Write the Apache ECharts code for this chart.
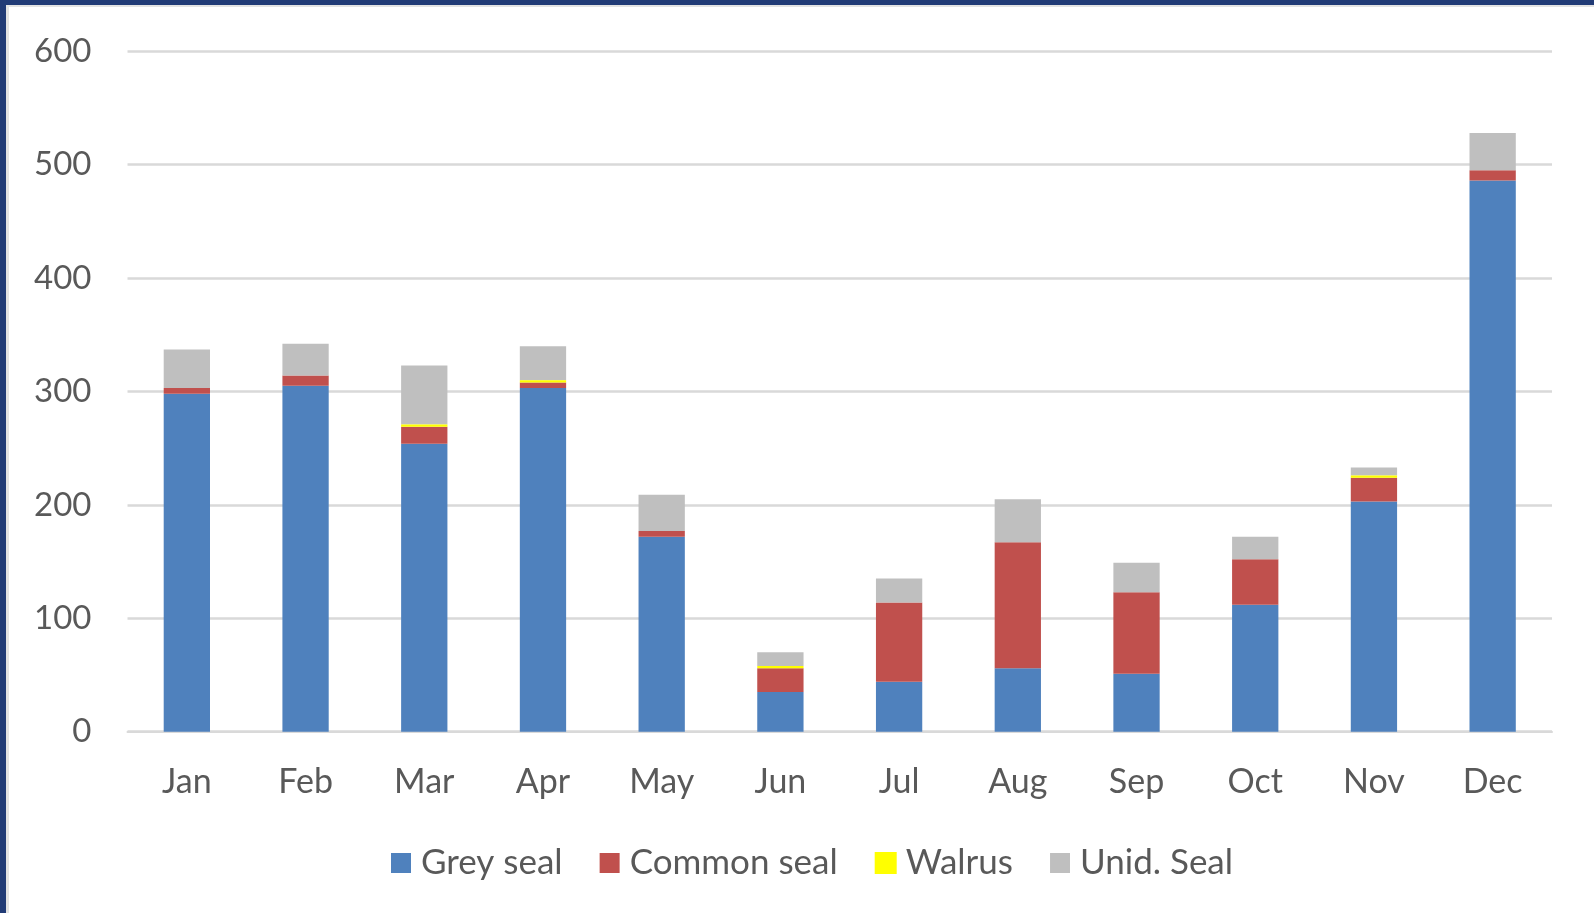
<!DOCTYPE html>
<html>
<head>
<meta charset="utf-8">
<style>
  html, body { margin: 0; padding: 0; background: #ffffff; }
  #chart { width: 1594px; height: 913px; }
</style>
<script src="https://cdn.jsdelivr.net/npm/echarts@6/dist/echarts.min.js"></script>
</head>
<body>
<div id="chart"></div>
<script>
const months = ['Jan','Feb','Mar','Apr','May','Jun','Jul','Aug','Sep','Oct','Nov','Dec'];
const greySeal   = [298, 305, 254, 303, 172, 35, 44, 56, 51, 112, 203, 486];
const commonSeal = [5, 9, 15, 5, 5, 21, 70, 111, 72, 40, 21, 9];
const walrus     = [0, 0, 2, 2, 0, 2, 0, 0, 0, 0, 2, 0];
const unidSeal   = [34, 28, 52, 30, 32, 12, 21, 38, 26, 20, 7, 33];
const yTicks = { min: 0, max: 600, interval: 100 };

const FONT = 'Lato';
const TXT = '#595959';

const chart = echarts.init(document.getElementById('chart'), null, { renderer: 'canvas' });

function bar(name, data, color, extra) {
  return Object.assign({
    name: name,
    type: 'bar',
    stack: 'total',
    barCategoryGap: '61%',
    data: data.map(v => (v === 0 && name === 'Walrus') ? '-' : v),
    itemStyle: { color: color },
    emphasis: { disabled: true }
  }, extra || {});
}

chart.setOption({
  animation: false,
  backgroundColor: '#ffffff',
  textStyle: { fontFamily: FONT },
  grid: { left: 127.5, right: 42, top: 51.3, bottom: 181.3, containLabel: false },
  legend: {
    left: 386,
    top: 837,
    itemWidth: 20,
    itemHeight: 20,
    itemGap: 37,
    icon: 'rect',
    textStyle: { color: TXT, fontSize: 35, fontFamily: FONT, lineHeight: 42, padding: [0, 0, 0, 5] },
    data: ['Grey seal', 'Common seal', 'Walrus', 'Unid. Seal']
  },
  xAxis: {
    type: 'category',
    data: months,
    axisLine: { show: true, lineStyle: { color: '#D9D9D9', width: 2 } },
    axisTick: { show: false },
    axisLabel: { color: TXT, fontSize: 34, fontFamily: FONT, margin: 33 }
  },
  yAxis: {
    type: 'value',
    min: yTicks.min,
    max: yTicks.max,
    interval: yTicks.interval,
    axisLine: { show: false },
    axisTick: { show: false },
    splitLine: { lineStyle: { color: '#D9D9D9', width: 2.5 } },
    axisLabel: { color: TXT, fontSize: 33, fontFamily: FONT, margin: 36 }
  },
  series: [
    bar('Grey seal', greySeal, '#4F81BD'),
    bar('Common seal', commonSeal, '#C0504D'),
    bar('Walrus', walrus, '#FFFF00', { z: 5, itemStyle: { color: '#FFFF00', borderColor: '#FFFF00', borderWidth: 2 } }),
    bar('Unid. Seal', unidSeal, '#BFBFBF')
  ],
  graphic: [
    { type: 'rect', shape: { x: 0, y: 0, width: 1594, height: 5 }, style: { fill: '#213B76' }, z: 100 },
    { type: 'rect', shape: { x: 6, y: 5, width: 1588, height: 2 }, style: { fill: '#E3E3E3' }, z: 100 },
    { type: 'rect', shape: { x: 0, y: 0, width: 6, height: 913 }, style: { fill: '#213B76' }, z: 100 },
    { type: 'rect', shape: { x: 6, y: 5, width: 3, height: 908 }, style: { fill: '#E3E3E3' }, z: 100 }
  ]
});
</script>
</body>
</html>
